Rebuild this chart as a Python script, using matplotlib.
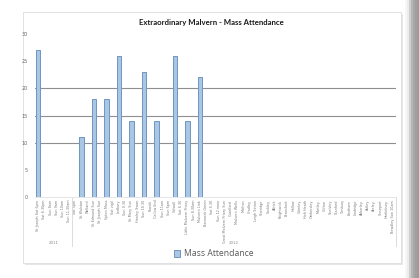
import numpy as np
import matplotlib
matplotlib.use("Agg")
import matplotlib.pyplot as plt
from matplotlib.patches import Rectangle
import matplotlib.transforms as mtransforms

# ---------------- data ----------------
categories = [
    "St Joseph Sat 6pm", "Sat 6.30pm", "Sun 8am", "Sun 9am", "Sun 10am", "Sun 11.30am",
    "Sat 5pm", "St Wulstan", "Welland", "St Edmund Sun", "St Joseph Sun", "Upton Mass",
    "Sat vigil", "Ledbury", "Sun 9.30", "St Mary Sun", "Hanley Swan", "Sun 10.30",
    "Powick", "Callow End", "Sun 11am", "Sun 6pm", "Colwall", "Sat 6.30", "Little Malvern Priory",
    "Sun 8.30am", "Malvern Link", "Barnards Green", "Sat 5.30", "Sun 12 noon",
    "Great Malvern Priory Sun", "Guarlford", "Malvern Wells", "Mathon", "Cradley",
    "Leigh Sinton", "Storridge", "Suckley", "Alfrick", "Knightwick", "Bransford",
    "Hallow", "Grimley", "Holt Heath", "Ombersley", "Martley", "Clifton",
    "Shelsley", "Stanford", "Tenbury", "Eastham", "Lindridge", "Abberley",
    "Astley", "Areley", "Stourport", "Hartlebury", "Bewdley Sun 10am",
]
values = [
    27, None, None, None, None, None, None, 11, None, 18, None, 18, None, 26,
    None, 14, None, 23, None, 14, None, None, 26, None, 14, None, 22,
    None, None, None, None, None, None, None, None, None, None, None, None,
    None, None, None, None, None, None, None, None, None, None, None, None,
    None, None, None, None, None, None, None,
]
groups = ["2011", "2012"]
group_sizes = [6, 52]
yticks = [0, 5, 10, 15, 20, 25, 30]
grid_levels = [10, 15, 20]
series_name = "Mass Attendance"
title = "Extraordinary Malvern - Mass Attendance"

vals = np.array([np.nan if v is None else v for v in values], dtype=float)
x = np.arange(len(categories))

# ---------------- figure ----------------
W, H = 419, 278
fig = plt.figure(figsize=(W / 100, H / 100), dpi=100)
fig.patch.set_facecolor("white")

def px(x0, y0, w, h):
    return (x0 / W, 1 - (y0 + h) / H, w / W, h / H)

# right shadow band
for i, c in enumerate(["#f6f6f6", "#ececec", "#cfcfcf", "#b6b6b6", "#a8a8a8", "#a0a0a0", "#9c9c9c", "#9a9a9a"]):
    l, b, w, h = px(405 + i * 2, 0, 2, H)
    fig.patches.append(Rectangle((l, b), w, h, transform=fig.transFigure,
                                 facecolor=c, edgecolor="none", zorder=0))
# chart area shadow + box
l, b, w, h = px(23, 12, 378, 251)
fig.patches.append(Rectangle((l + 1.5 / W, b - 2 / H), w, h, transform=fig.transFigure,
                             facecolor="#e6e6e6", edgecolor="none", zorder=0))
fig.patches.append(Rectangle((l, b), w, h, transform=fig.transFigure,
                             facecolor="white", edgecolor="#dddddd", linewidth=0.6, zorder=0))

ax = fig.add_axes([35 / W, 1 - 197 / H, (396 - 35) / W, (197 - 34) / H])
ax.set_facecolor("none")
ax.set_zorder(5)

ax.bar(x, vals, width=0.72, color="#a9c6e4", edgecolor="#6f95c2", linewidth=0.7,
       label=series_name, zorder=3)

ax.set_xlim(-0.5, len(categories) - 0.5)
ax.set_ylim(0, 30)
ax.set_yticks(yticks)
ax.set_yticklabels([str(t) for t in yticks], fontsize=3.6, color="#6a6a6a")
ax.tick_params(axis="y", length=0, pad=5)
ax.grid(axis="y", color="#8f8f8f", linewidth=0.8, zorder=1)
for t, gl in zip(yticks, ax.get_ygridlines()):
    gl.set_visible(t in grid_levels)

ax.set_xticks(x)
ax.set_xticklabels(categories, rotation=90, fontsize=2.4, color="#7a7a7a", va="top")
ax.tick_params(axis="x", length=0, pad=2)

for s in ["top", "right", "left"]:
    ax.spines[s].set_visible(False)
ax.spines["bottom"].set_color("#e0e0e0")
ax.spines["bottom"].set_linewidth(0.6)

# group dividers and labels
trans = mtransforms.blended_transform_factory(ax.transData, ax.transAxes)
start = 0
for g, n in zip(groups, group_sizes):
    end = start + n
    ax.plot([end - 0.5, end - 0.5], [0, -0.30], transform=trans, color="#dcdcdc",
            linewidth=0.7, clip_on=False)
    ax.text((start + end - 1) / 2, -0.28, g, transform=trans, fontsize=2.8,
            color="#8a8a8a", ha="center", va="center")
    start = end

fig.text(211 / W, 1 - 23 / H, title, fontsize=5.6, fontweight="bold",
         family="Lato", ha="center", va="center", color="#1a1a1a", zorder=6)

leg = fig.legend(loc="center", bbox_to_anchor=(214 / W, 1 - 254 / H), frameon=False,
                 prop={"family": "Open Sans", "size": 6.2}, labelcolor="#595959",
                 handlelength=0.7, handleheight=0.7, handletextpad=0.4,
                 borderpad=0, borderaxespad=0)
leg.set_zorder(6)

fig.savefig("out.png", dpi=100, facecolor="white")
